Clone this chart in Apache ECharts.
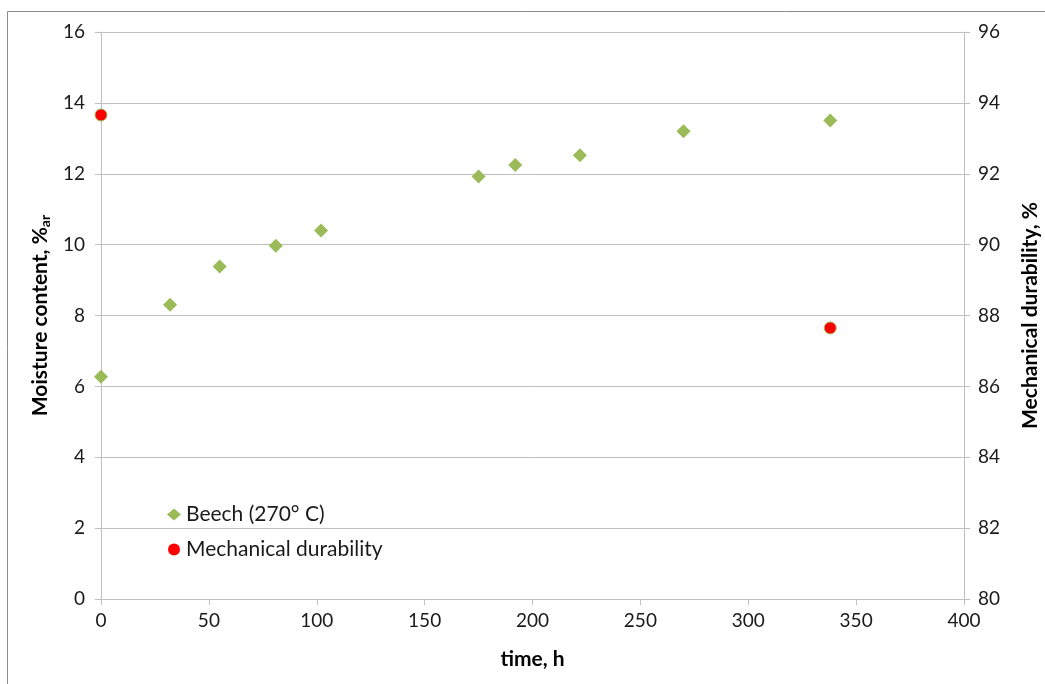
<!DOCTYPE html>
<html>
<head>
<meta charset="utf-8">
<script src="https://cdn.jsdelivr.net/npm/echarts@6/dist/echarts.min.js"></script>
<style>
  html, body { margin: 0; padding: 0; background: #fff; }
  #chart { width: 1045px; height: 684px; }
</style>
</head>
<body>
<div id="chart"></div>
<script>
// Storage time (h) and moisture content of torrefied beech pellets
const timeBeech = [0, 32, 55, 81, 102, 175, 192, 222, 270, 338];
const moistureBeech = [6.27, 8.3, 9.38, 9.97, 10.4, 11.92, 12.25, 12.52, 13.2, 13.5];

// Mechanical durability measured at start and end of storage
const timeDurability = [0, 338];
const durability = [93.66, 87.65];

const xTicks = [0, 50, 100, 150, 200, 250, 300, 350, 400];
const leftTicks = [0, 2, 4, 6, 8, 10, 12, 14, 16];
const rightTicks = [80, 82, 84, 86, 88, 90, 92, 94, 96];

const FONT = 'Lato, "Open Sans", sans-serif';
const GRID_COLOR = '#bfbfbf';

const chart = echarts.init(document.getElementById('chart'), null, { renderer: 'canvas' });

chart.setOption({
  animation: false,
  backgroundColor: '#ffffff',
  textStyle: { fontFamily: FONT },
  graphic: [
    { type: 'line', shape: { x1: 7.5, y1: 11.5, x2: 1045, y2: 11.5 }, style: { stroke: '#8c8c8c', lineWidth: 1 } },
    { type: 'line', shape: { x1: 7.5, y1: 11.5, x2: 7.5, y2: 684 }, style: { stroke: '#8c8c8c', lineWidth: 1 } }
  ],
  grid: { left: 101, right: 81, top: 32, bottom: 85, containLabel: false, outerBoundsMode: 'none' },
  legend: {
    orient: 'vertical',
    left: 162,
    top: 499,
    itemGap: 14,
    itemWidth: 14,
    itemHeight: 12,
    textStyle: { fontFamily: FONT, fontSize: 21, color: '#1a1a1a' },
    data: [
      { name: 'Beech (270° C)', icon: 'diamond', itemStyle: { color: '#9bbb59', borderWidth: 0 } },
      { name: 'Mechanical durability', icon: 'circle', itemStyle: { color: '#ff0000', borderWidth: 0 } }
    ]
  },
  xAxis: {
    type: 'value',
    min: xTicks[0],
    max: xTicks[xTicks.length - 1],
    interval: 50,
    name: 'time, h',
    nameLocation: 'middle',
    nameGap: 50,
    nameTextStyle: { fontFamily: FONT, fontSize: 21, fontWeight: 'bold', color: '#000' },
    axisLine: { show: true, lineStyle: { color: GRID_COLOR } },
    axisTick: { show: true, length: 6, lineStyle: { color: GRID_COLOR } },
    axisLabel: { fontFamily: FONT, fontSize: 19, color: '#1a1a1a', margin: 12 },
    splitLine: { show: false }
  },
  yAxis: [
    {
      type: 'value',
      position: 'left',
      min: leftTicks[0],
      max: leftTicks[leftTicks.length - 1],
      interval: 2,
      name: '{a|Moisture content, %}{s|ar}',
      nameLocation: 'middle',
      nameGap: 45,
      nameRotate: 90,
      nameTextStyle: {
        rich: {
          a: { fontFamily: FONT, fontSize: 21, fontWeight: 'bold', color: '#000' },
          s: { fontFamily: FONT, fontSize: 14, fontWeight: 'bold', color: '#000', verticalAlign: 'bottom', padding: [10, 0, 0, 0] }
        }
      },
      axisLine: { show: true, lineStyle: { color: GRID_COLOR } },
      axisTick: { show: true, length: 6, lineStyle: { color: GRID_COLOR } },
      axisLabel: { fontFamily: FONT, fontSize: 19, color: '#1a1a1a', margin: 16 },
      splitLine: { show: true, lineStyle: { color: GRID_COLOR, width: 1 } }
    },
    {
      type: 'value',
      position: 'right',
      min: rightTicks[0],
      max: rightTicks[rightTicks.length - 1],
      interval: 2,
      name: 'Mechanical durability, %',
      nameLocation: 'middle',
      nameGap: 56,
      nameRotate: 90,
      nameTextStyle: { fontFamily: FONT, fontSize: 21, fontWeight: 'bold', color: '#000' },
      axisLine: { show: true, lineStyle: { color: GRID_COLOR } },
      axisTick: { show: true, length: 6, lineStyle: { color: GRID_COLOR } },
      axisLabel: { fontFamily: FONT, fontSize: 19, color: '#1a1a1a', margin: 14 },
      splitLine: { show: false }
    }
  ],
  series: [
    {
      name: 'Beech (270° C)',
      type: 'scatter',
      yAxisIndex: 0,
      symbol: 'diamond',
      symbolSize: 14,
      itemStyle: { color: '#9bbb59', opacity: 1 },
      data: timeBeech.map((t, i) => [t, moistureBeech[i]])
    },
    {
      name: 'Mechanical durability',
      type: 'scatter',
      yAxisIndex: 1,
      symbol: 'circle',
      symbolSize: 12,
      itemStyle: { color: '#ff0000', borderColor: '#9bbb59', borderWidth: 1, opacity: 1 },
      data: timeDurability.map((t, i) => [t, durability[i]])
    }
  ]
});
</script>
</body>
</html>
